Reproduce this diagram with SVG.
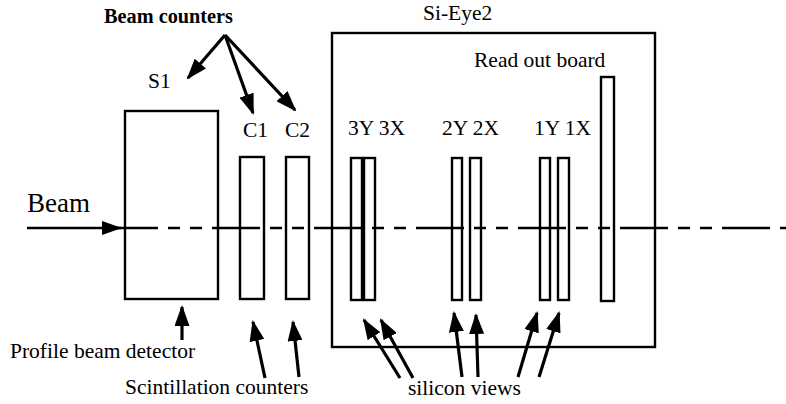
<svg xmlns="http://www.w3.org/2000/svg" width="786" height="404" viewBox="0 0 786 404">
<defs>
<style>
.box{fill:none;stroke:#000;stroke-width:2.4}
text{font-family:'Liberation Serif','Times New Roman',Tinos,'DejaVu Serif',serif;font-size:21.5px;fill:#000}
.b{font-weight:bold;font-size:20.3px}
.ar{stroke:#000;stroke-width:3.2;fill:none;marker-end:url(#ah)}
.beam{stroke:#000;stroke-width:2.4;fill:none}
</style>
<marker id="ah" viewBox="0 0 21 15" refX="19" refY="7.5" markerWidth="21" markerHeight="15" orient="auto" markerUnits="userSpaceOnUse"><path d="M0,0 L21,7.5 L0,15 z" fill="#000"/></marker>
<marker id="ah2" viewBox="0 0 20 14" refX="19" refY="7" markerWidth="20" markerHeight="14" orient="auto" markerUnits="userSpaceOnUse"><path d="M0,0 L20,7 L0,14 z" fill="#000"/></marker>
</defs>
<rect width="786" height="404" fill="#fff"/>
<g id="beam">
<text x="27" y="212" font-family="Liberation Serif, serif" style="font-size:27px">Beam</text>
</g>
<g id="profile-detector">
<rect class="box" x="125" y="111" width="93" height="188"/>
<text x="10" y="358" font-family="Liberation Serif, serif">Profile beam detector</text>
</g>
<g id="S1"><text x="148" y="88" font-family="Liberation Serif, serif">S1</text></g>
<g id="C1">
<rect class="box" x="240" y="157" width="24" height="142"/>
<text x="243" y="137" font-family="Liberation Serif, serif">C1</text>
</g>
<g id="C2">
<rect class="box" x="286" y="157" width="23" height="142"/>
<text x="285" y="137" font-family="Liberation Serif, serif">C2</text>
</g>
<g id="si-eye2">
<rect class="box" x="332" y="33" width="323" height="314"/>
<text x="423" y="20" font-family="Liberation Serif, serif">Si-Eye2</text>
</g>
<g id="readout-board">
<rect class="box" x="601" y="77" width="13" height="224"/>
<text x="474" y="67" font-family="Liberation Serif, serif">Read out board</text>
</g>
<g id="view3">
<rect class="box" x="351" y="158" width="11" height="142"/>
<rect class="box" x="364" y="158" width="11" height="142"/>
<text x="348" y="135" font-family="Liberation Serif, serif">3Y 3X</text>
</g>
<g id="view2">
<rect class="box" x="452" y="158" width="10" height="142"/>
<rect class="box" x="470" y="158" width="11" height="142"/>
<text x="442" y="135" font-family="Liberation Serif, serif">2Y 2X</text>
</g>
<g id="view1">
<rect class="box" x="540" y="158" width="10" height="142"/>
<rect class="box" x="558" y="158" width="11" height="142"/>
<text x="534" y="135" font-family="Liberation Serif, serif">1Y 1X</text>
</g>
<g id="labels">
<text class="b" x="104" y="23" font-family="Liberation Serif, serif">Beam counters</text>
<text x="125" y="394" font-family="Liberation Serif, serif">Scintillation counters</text>
<text x="408" y="395" font-family="Liberation Serif, serif">silicon views</text>
</g>
<g id="connectors">
<line class="beam" x1="110" y1="228" x2="786" y2="228" stroke-dasharray="48 10 12 10 12 10"/>
<line x1="27" y1="228" x2="121" y2="228" stroke="#000" stroke-width="2.6" marker-end="url(#ah2)"/>
<line class="ar" x1="225" y1="35" x2="188" y2="78"/>
<line class="ar" x1="225" y1="35" x2="253" y2="113"/>
<line class="ar" x1="225" y1="35" x2="295" y2="110"/>
<line class="ar" x1="182" y1="340" x2="182" y2="307"/>
<line class="ar" x1="265" y1="378" x2="253" y2="322"/>
<line class="ar" x1="299" y1="377" x2="293" y2="322"/>
<line class="ar" x1="400" y1="378" x2="364" y2="320"/>
<line class="ar" x1="413" y1="378" x2="381" y2="320"/>
<line class="ar" x1="462" y1="377" x2="454" y2="313"/>
<line class="ar" x1="478" y1="377" x2="476" y2="315"/>
<line class="ar" x1="518" y1="377" x2="537" y2="313"/>
<line class="ar" x1="539" y1="377" x2="559" y2="313"/>
</g>
</svg>
